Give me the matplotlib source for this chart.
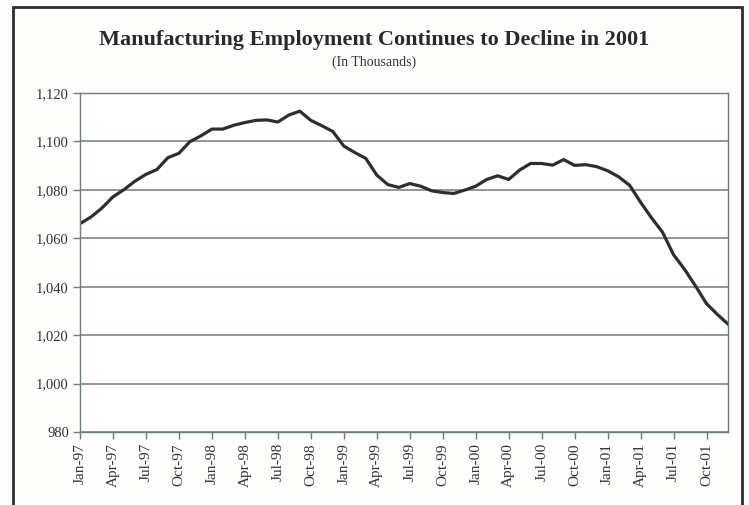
import matplotlib
matplotlib.use("Agg")
import matplotlib.pyplot as plt
from matplotlib.patches import Rectangle

months = ["Jan", "Feb", "Mar", "Apr", "May", "Jun", "Jul", "Aug", "Sep", "Oct", "Nov", "Dec"]
years = ["97", "98", "99", "00", "01"]
categories = [f"{m}-{y}" for y in years for m in months]

employment = [
    1066.0, 1068.8, 1072.5, 1077.1, 1080.1, 1083.6, 1086.4, 1088.4, 1093.3, 1095.1, 1099.9, 1102.3,
    1105.1, 1105.1, 1106.7, 1107.8, 1108.7, 1108.9, 1108.0, 1110.9, 1112.5, 1108.7, 1106.5, 1104.1,
    1098.1, 1095.4, 1093.0, 1086.1, 1082.2, 1081.0, 1082.6, 1081.5, 1079.6, 1078.9, 1078.5, 1079.9,
    1081.5, 1084.3, 1085.8, 1084.3, 1088.2, 1090.9, 1090.9, 1090.2, 1092.5, 1090.1, 1090.4, 1089.6,
    1087.9, 1085.4, 1081.9, 1074.9, 1068.4, 1062.5, 1053.2, 1047.2, 1040.3, 1033.0, 1028.5, 1024.4,
]

y_ticks = [980, 1000, 1020, 1040, 1060, 1080, 1100, 1120]

plt.rcParams['font.family'] = ['Liberation Serif', 'DejaVu Serif']

W, H = 749, 505
fig = plt.figure(figsize=(W / 100, H / 100), dpi=100)
fig.patch.set_facecolor('#fdfdfb')

# outer frame
fig.patches.append(Rectangle((13 / W, -0.02), (742 - 13) / W, 1 - 6.5 / H + 0.02,
                             transform=fig.transFigure, fill=False,
                             edgecolor='#2e2e2e', linewidth=2.0))

ax = fig.add_axes([80 / W, 1 - 432 / H, (728.5 - 80) / W, (432 - 93) / H])
ax.set_facecolor('white')

x = list(range(len(categories)))
ax.plot(x, employment, color='#2b302d', linewidth=2.3, solid_joinstyle='round')

ax.set_xlim(0, len(categories) - 1)
ax.set_ylim(980, 1120)
ax.set_yticks(y_ticks)
ax.set_yticklabels([f"{v:,}" for v in y_ticks], fontsize=10.5, color='#333333')
ax.set_xticks(x[::3])
ax.set_xticklabels(categories[::3], rotation=90, fontsize=11, color='#333333')

ax.grid(axis='y', color='#6f7d78', linewidth=1.1)
ax.set_axisbelow(True)
for s in ax.spines.values():
    s.set_color('#6f7d78')
    s.set_linewidth(1.0)
ax.tick_params(axis='both', direction='out', length=5, width=1.0, color='#6f7d78', pad=3)
ax.tick_params(axis='x', pad=3)

fig.text(0.5, 1 - 40 / H, "Manufacturing Employment Continues to Decline in 2001",
         ha='center', va='center', fontsize=16, fontweight='bold', color='#2a2a2a')
fig.text(0.5, 1 - 62 / H, "(In Thousands)", ha='center', va='center', fontsize=10, color='#333333')

fig.savefig("out.png", dpi=100, facecolor=fig.get_facecolor())
